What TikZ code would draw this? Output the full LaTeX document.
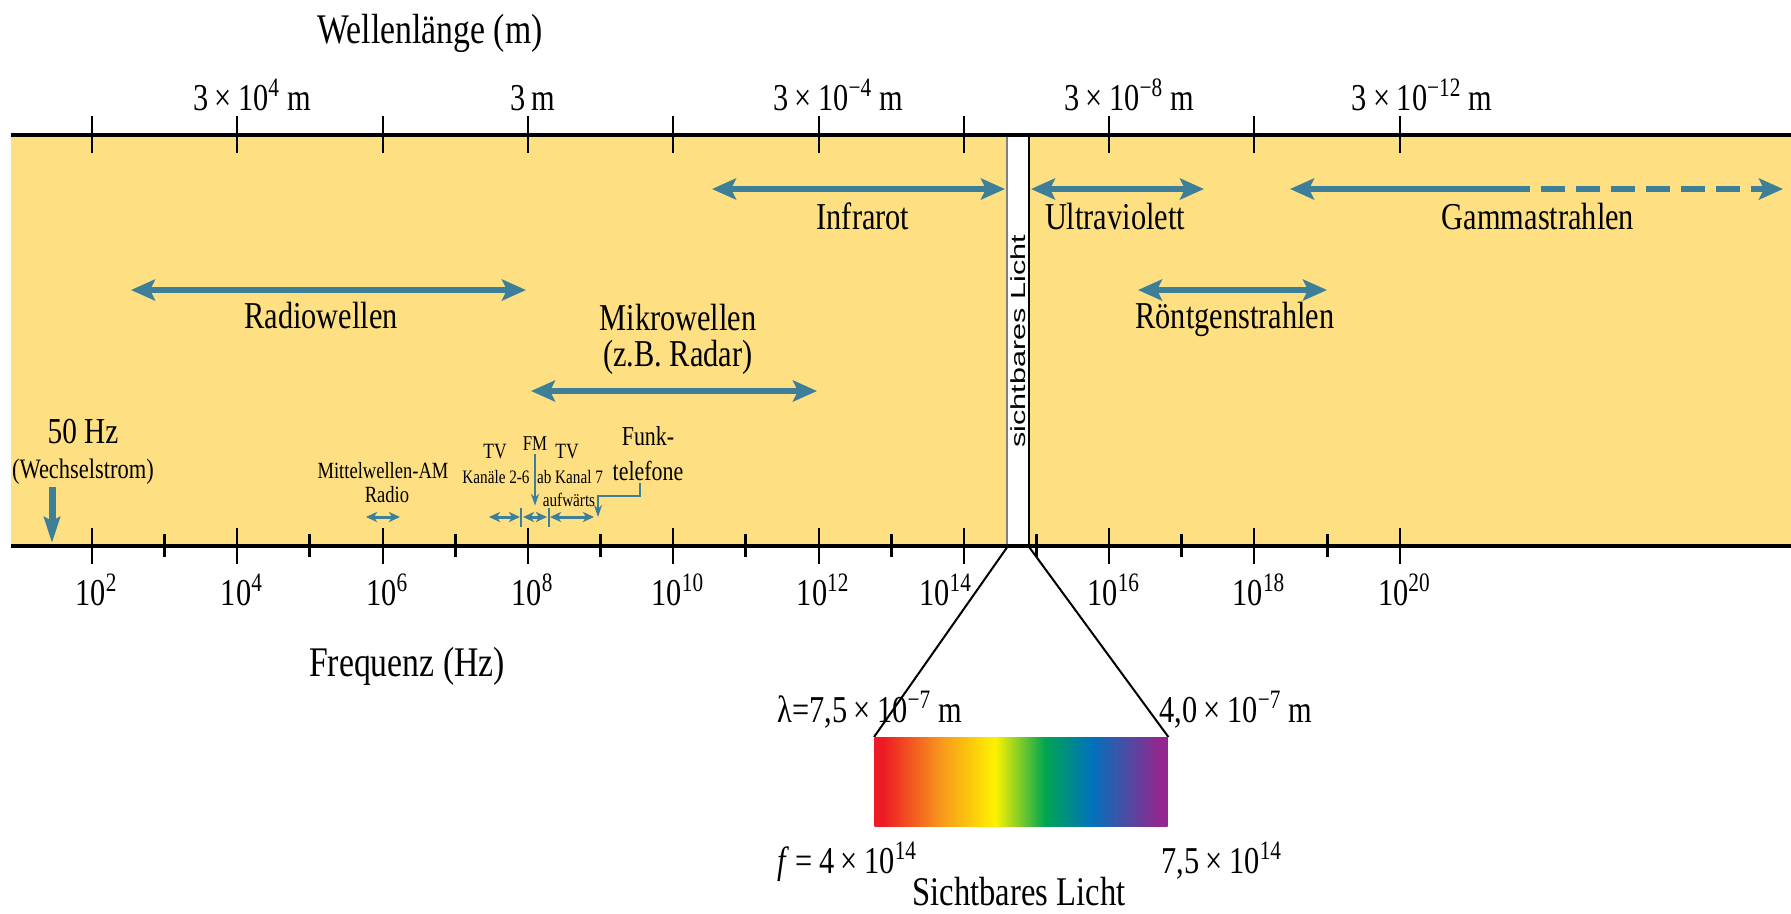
\documentclass[tikz,border=0pt]{standalone}
\usepackage{fontspec}
\setmainfont{Liberation Serif}[FakeStretch=0.8]
\newfontfamily\lichtfont{Liberation Sans}[FakeStretch=1.5]
\usetikzlibrary{arrows.meta}

\definecolor{bandyellow}{RGB}{254,223,130}
\definecolor{rangeblue}{RGB}{61,126,153}
\definecolor{specred}{RGB}{237,28,36}
\definecolor{specorange}{RGB}{247,148,29}
\definecolor{specyellow}{RGB}{255,242,0}
\definecolor{specgreen}{RGB}{0,166,81}
\definecolor{specblue}{RGB}{0,114,188}
\definecolor{specviolet}{RGB}{146,39,143}
\pgfdeclarehorizontalshading{spectrum}{100bp}{color(0bp)=(specred); color(26.5bp)=(specred);
  color(36bp)=(specorange); color(45.5bp)=(specyellow); color(54bp)=(specgreen);
  color(62bp)=(specblue); color(73.5bp)=(specviolet); color(100bp)=(specviolet)}

\tikzset{
  lbl/.style={anchor=base, inner sep=0pt, font=\fontsize{10.8}{12}\selectfont},
  axistitle/.style={lbl, font=\fontsize{12}{14}\selectfont},
  minilbl/.style={lbl, font=\fontsize{5.4}{6}\selectfont},
  bandarrow/.style={draw=rangeblue, line width=0.6mm, >={Stealth[length=2.4mm,width=2.1mm,inset=0.5mm]}, <->},
  smallrange/.style={draw=rangeblue, line width=0.3mm, >={Stealth[length=1.1mm,width=1mm,inset=0.3mm]}, <->},
  pointer/.style={draw=rangeblue, line width=0.15mm, -{Stealth[length=1.2mm,width=0.8mm]}},
  hzarrow/.style={draw=rangeblue, line width=0.7mm, -{Stealth[length=2.6mm,width=1.6mm,inset=0.4mm]}},
  majtick/.style={line width=0.2mm},
  mintick/.style={line width=0.3mm},
}

\begin{document}
\begin{tikzpicture}[x=0.1mm, y=-0.1mm]
  \useasboundingbox (0,0) rectangle (1791,913);
  % Spectrum band
  \fill[bandyellow] (11,135) rectangle (1791,546);
  % Visible light strip
  \node[fill=white, minimum width=2.1mm, minimum height=41.1mm, inner sep=0pt, anchor=north west] (strip) at (1007,135) {};
  \draw[gray, line width=0.15mm] (strip.north west) -- (strip.south west);
  \draw[line width=0.2mm] (strip.north east) -- (strip.south east);
  \node[rotate=90, inner sep=0pt, font=\lichtfont\fontsize{5.8}{7}\selectfont] (lichtlbl) at (strip.center) {sichtbares Licht};
  % Axes
  \draw[line width=0.4mm] (11,135) -- (1791,135);
  \draw[line width=0.4mm] (11,546) -- (1791,546);
  \foreach \d in {2,4,...,20} {
    \draw[majtick] ({92+72.65*(\d-2)},116) -- ++(0,37);
    \draw[majtick] ({92+72.65*(\d-2)},528) -- ++(0,36);
  }
  \foreach \d in {3,5,...,19}
    \draw[mintick] ({92+72.65*(\d-2)},534) -- ++(0,23);
  % Axis titles
  \node[axistitle] (wl) at (430,43) {Wellenlänge (m)};
  \node[axistitle] (fq) at (407,676) {Frequenz (Hz)};
  % Wavelength labels
  \foreach \xx/\txt [count=\i] in {252/{3\,×\,10\textsuperscript{4}\,m}, 533/{3\,m},
      838/{3\,×\,10\textsuperscript{−4}\,m}, 1129/{3\,×\,10\textsuperscript{−8}\,m},
      1422/{3\,×\,10\textsuperscript{−12}\,m}}
    \node[lbl] (wl\i) at (\xx,110) {\txt};
  % Frequency labels
  \foreach \d in {2,4,6,8,10,12,16,18,20}
    \node[lbl] (f\d) at ({97+72.65*(\d-2)},605) {10\textsuperscript{\d}};
  \node[lbl] (f14) at (946,605) {10\textsuperscript{14}};
  % Ranges
  \draw[bandarrow] (131,290) -- (526,290);
  \node[lbl] (radio) at (321,328) {Radiowellen};
  \draw[bandarrow] (531,391) -- (817,391);
  \node[lbl] (mikro) at (678,330) {Mikrowellen};
  \node[lbl] (radar) at (678,366) {(z.B. Radar)};
  \draw[bandarrow] (712,189) -- (1005,189);
  \node[lbl] (ir) at (863,229) {Infrarot};
  \draw[bandarrow] (1031,189) -- (1204,189);
  \node[lbl] (uv) at (1115,229) {Ultraviolett};
  \draw[bandarrow] (1138,290) -- (1327,290);
  \node[lbl] (xray) at (1235,328) {Röntgenstrahlen};
  \draw[bandarrow, <-] (1290,189) -- (1530,189);
  \draw[bandarrow, ->, dash pattern=on 2.4mm off 1.1mm, dash phase=2.4mm] (1530,189) -- (1783,189);
  \node[lbl] (gamma) at (1538,229) {Gammastrahlen};
  % Low frequency details
  \node[lbl, font=\fontsize{10.4}{12}\selectfont] (hz) at (83,443) {50 Hz};
  \node[lbl, font=\fontsize{8}{9}\selectfont] (wechsel) at (83,478) {(Wechselstrom)};
  \coordinate (hztip) at (52,543);
  \draw[hzarrow] ([yshift=5.6mm]hztip) -- (hztip);
  \node[lbl, font=\fontsize{6.6}{7}\selectfont] (mw) at (383,478) {Mittelwellen-AM};
  \node[lbl, font=\fontsize{6.6}{7}\selectfont] (mwradio) at (387,502) {Radio};
  \draw[smallrange] (366,517) -- (400,517);
  \node[lbl, font=\fontsize{6.2}{7}\selectfont] (tv1) at (495,458) {TV};
  \node[minilbl] (tv1k) at (496,483) {Kanäle 2-6};
  \node[lbl, font=\fontsize{6}{7}\selectfont] (fm) at (535,450) {FM};
  \node[lbl, font=\fontsize{6.2}{7}\selectfont] (tv2) at (567,458) {TV};
  \node[minilbl] (tv2k) at (570,483) {ab Kanal 7};
  \node[minilbl] (tv2a) at (569,506) {aufwärts};
  \node[lbl, font=\fontsize{7.8}{9}\selectfont] (funk) at (648,445) {Funk-};
  \node[lbl, font=\fontsize{7.8}{9}\selectfont] (tele) at (648,480) {telefone};
  \draw[smallrange] (489,517) -- (520,517);
  \draw[smallrange] (523,517) -- (547,517);
  \draw[smallrange] (550,517) -- (594,517);
  \foreach \xx in {521,549}
    \draw[rangeblue, line width=0.15mm] (\xx,508) -- (\xx,527);
  \draw[pointer] ([yshift=-0.3mm]fm.south) -- ++(0,52);
  \draw[pointer] ([xshift=-0.8mm,yshift=-0.2mm]tele.south) |- (598,496) -- (598,517);
  % Visible light detail
  \node[shade, shading=spectrum, minimum width=29.3mm, minimum height=8.9mm, inner sep=0pt, anchor=north west] (spec) at (874,737) {};
  \draw[line width=0.2mm] (strip.south west) -- (spec.north west);
  \draw[line width=0.2mm] (strip.south east) -- (spec.north east);
  \node[lbl, anchor=base west] (lam1) at (777,722) {λ=7,5\,×\,10\textsuperscript{−7}\,m};
  \node[lbl, anchor=base west] (lam2) at (1159,722) {4,0\,×\,10\textsuperscript{−7}\,m};
  \node[lbl, anchor=base west] (f1) at (777,873) {\textit{f}\,=\,4\,×\,10\textsuperscript{14}};
  \node[lbl, anchor=base west] (f2) at (1161,873) {7,5\,×\,10\textsuperscript{14}};
  \node[lbl, font=\fontsize{11.6}{13}\selectfont] (sicht) at (1019,905) {Sichtbares Licht};
\end{tikzpicture}
\end{document}
